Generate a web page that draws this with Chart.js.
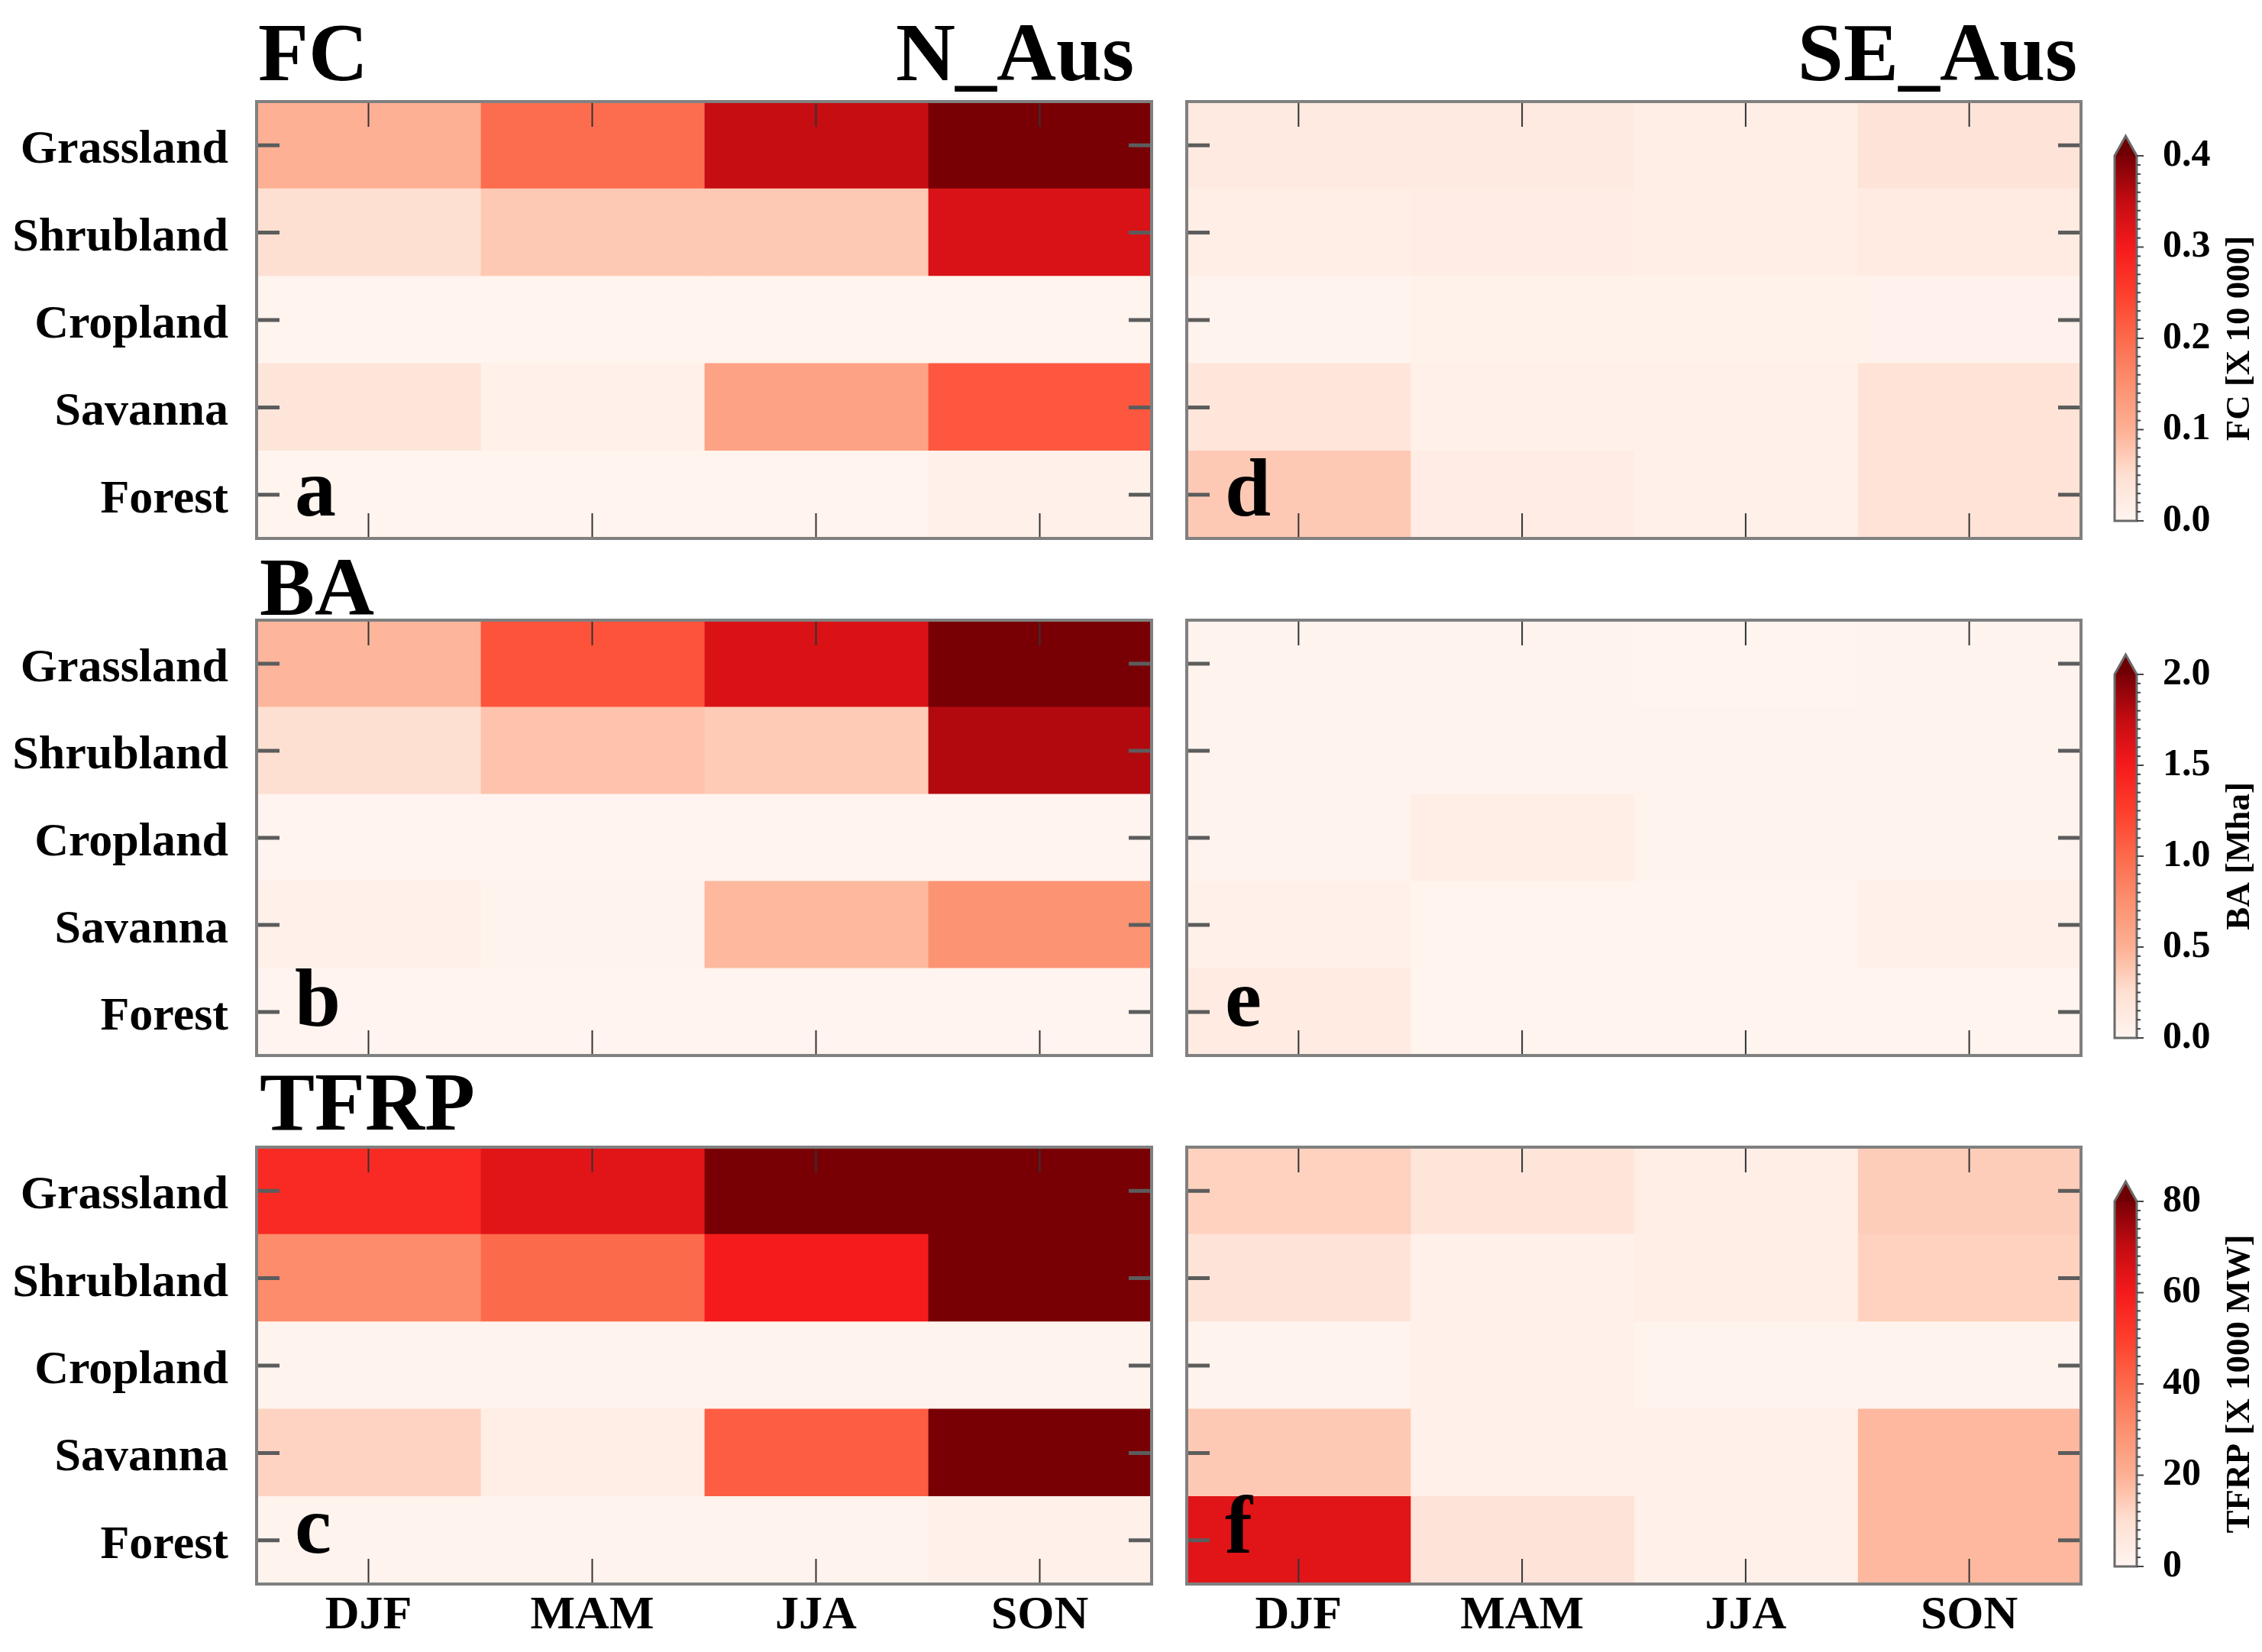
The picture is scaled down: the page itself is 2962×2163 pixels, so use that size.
<!DOCTYPE html>
<html>
<head>
<meta charset="utf-8">
<title>FC, BA and TFRP by land cover and season</title>
<script src="https://cdn.jsdelivr.net/npm/chart.js@4.4.1/dist/chart.umd.min.js"></script>
<style>
  html, body { margin: 0; padding: 0; background: #fff; }
  #page { position: relative; width: 2962px; height: 2163px; overflow: hidden; background: #fff; }
  #page canvas { position: absolute; }
</style>
</head>
<body>
<div id="page"></div>
<script>
// heatmap values: rows follow landTypes, columns follow seasons
const landTypes = ['Grassland', 'Shrubland', 'Cropland', 'Savanna', 'Forest'];
const seasons = ['DJF', 'MAM', 'JJA', 'SON'];

const fcNorth = [
  [0.100, 0.196, 0.348, 0.420],
  [0.050, 0.074, 0.074, 0.330],
  [0.003, 0.003, 0.003, 0.003],
  [0.038, 0.012, 0.122, 0.220],
  [0.003, 0.003, 0.003, 0.010]
];
const fcSouth = [
  [0.026, 0.026, 0.017, 0.040],
  [0.017, 0.018, 0.016, 0.025],
  [0.004, 0.008, 0.008, 0.006],
  [0.036, 0.012, 0.012, 0.043],
  [0.074, 0.018, 0.012, 0.043]
];
const baNorth = [
  [0.47, 1.13, 1.64, 2.10],
  [0.25, 0.40, 0.36, 1.81],
  [0.01, 0.01, 0.01, 0.01],
  [0.06, 0.02, 0.46, 0.72],
  [0.01, 0.01, 0.01, 0.01]
];
const baSouth = [
  [0.020, 0.020, 0.015, 0.020],
  [0.020, 0.020, 0.020, 0.020],
  [0.020, 0.085, 0.020, 0.020],
  [0.050, 0.015, 0.015, 0.060],
  [0.120, 0.015, 0.015, 0.015]
];
const frpNorth = [
  [55.5, 64.0, 85.0, 85.0],
  [31.0, 40.0, 60.0, 85.0],
  [1.0, 1.0, 1.0, 1.0],
  [12.7, 3.4, 43.0, 85.0],
  [1.0, 1.0, 1.0, 2.4]
];
const frpSouth = [
  [13.0, 7.6, 3.4, 14.0],
  [8.0, 2.4, 3.4, 13.0],
  [1.0, 2.2, 1.0, 1.0],
  [14.8, 2.4, 2.4, 18.3],
  [64.0, 8.0, 2.4, 18.3]
];

// colour bar ticks
const fcTicks = [0, 0.1, 0.2, 0.3, 0.4];
const fcTickLabels = ['0.0', '0.1', '0.2', '0.3', '0.4'];
const baTicks = [0, 0.5, 1.0, 1.5, 2.0];
const baTickLabels = ['0.0', '0.5', '1.0', '1.5', '2.0'];
const frpTicks = [0, 20, 40, 60, 80];
const frpTickLabels = ['0', '20', '40', '60', '80'];

// white -> red -> dark red palette
const redStops = [
  [255, 245, 240], [254, 224, 210], [253, 176, 148], [252, 144, 112],
  [252, 106, 76], [254, 62, 44], [245, 26, 28], [196, 12, 18], [120, 0, 5]
];
function redColor(t) {
  t = Math.max(0, Math.min(1, t));
  const p = t * (redStops.length - 1);
  const i = Math.min(Math.floor(p), redStops.length - 2);
  const f = p - i;
  const a = redStops[i], b = redStops[i + 1];
  const c = a.map((v, k) => Math.round(v + (b[k] - v) * f));
  return `rgb(${c[0]},${c[1]},${c[2]})`;
}

const SERIF = '"Liberation Serif", "Times New Roman", serif';
Chart.defaults.font.family = SERIF;
Chart.defaults.font.weight = 'bold';
Chart.defaults.color = '#000';

const page = document.getElementById('page');
function makeCanvas(left, top, w, h) {
  const c = document.createElement('canvas');
  c.width = w; c.height = h;
  c.style.left = left + 'px'; c.style.top = top + 'px';
  c.style.width = w + 'px'; c.style.height = h + 'px';
  page.appendChild(c);
  return c;
}

// keep tick labels from shrinking the plot area
function noPad(s) {
  s.paddingTop = 0; s.paddingBottom = 0; s.paddingLeft = 0; s.paddingRight = 0;
}

// frame, inward ticks, panel letter and headings
const panelDecor = {
  id: 'panelDecor',
  afterDatasetsDraw(chart, args, o) {
    const { ctx, chartArea: a } = chart;
    const ys = chart.scales.y, xs = chart.scales.season;
    ctx.save();
    ctx.lineCap = 'butt';
    ctx.strokeStyle = '#5c5c5c';
    ctx.lineWidth = 5;
    ys.ticks.forEach((t, i) => {
      const y = ys.getPixelForTick(i);
      ctx.beginPath();
      ctx.moveTo(a.left, y); ctx.lineTo(a.left + 30, y);
      ctx.moveTo(a.right - 30, y); ctx.lineTo(a.right, y);
      ctx.stroke();
    });
    ctx.strokeStyle = '#333';
    ctx.lineWidth = 2;
    xs.ticks.forEach((t, i) => {
      const x = xs.getPixelForTick(i);
      ctx.beginPath();
      ctx.moveTo(x, a.top); ctx.lineTo(x, a.top + 33);
      ctx.moveTo(x, a.bottom - 33); ctx.lineTo(x, a.bottom);
      ctx.stroke();
    });
    ctx.strokeStyle = '#808080';
    ctx.lineWidth = 4;
    ctx.strokeRect(a.left, a.top, a.right - a.left, a.bottom - a.top);

    ctx.fillStyle = '#000';
    ctx.textBaseline = 'alphabetic';
    ctx.font = 'bold 108px ' + SERIF;
    ctx.textAlign = 'left';
    ctx.fillText(o.letter, a.left + 50, a.bottom - o.letterDy);
    (o.heads || []).forEach(h => {
      ctx.textAlign = h.align;
      const x = h.align === 'left' ? a.left + h.dx : a.right - h.dx;
      ctx.fillText(h.text, x, a.top - h.dy);
    });
    ctx.restore();
  }
};

const colLeft = [336, 1554], colRight = [1508, 2725];
const canvasX = [0, 1530], canvasW = [1530, 1210];
const rowTop = [133, 812, 1502], rowBottom = [705, 1382, 2074];
const headRoom = 133;

function heatPanel(col, row, vals, vmax, deco) {
  const last = row === 2;
  const bottomSpace = last ? 2163 - rowBottom[row] : 10;
  const top = rowTop[row] - headRoom;
  const h = headRoom + (rowBottom[row] - rowTop[row]) + bottomSpace;
  const el = makeCanvas(canvasX[col], top, canvasW[col], h);
  return new Chart(el, {
    type: 'bar',
    data: {
      labels: landTypes,
      datasets: seasons.map((s, c) => ({
        label: s,
        data: landTypes.map(() => 1),
        backgroundColor: landTypes.map((_, r) => redColor(vals[r][c] / vmax)),
        borderWidth: 0,
        barPercentage: 1,
        categoryPercentage: 1,
        inflateAmount: 0.6
      }))
    },
    options: {
      indexAxis: 'y',
      responsive: false,
      animation: false,
      events: [],
      layout: {
        padding: { top: headRoom, right: canvasX[col] + canvasW[col] - colRight[col], left: 0, bottom: 0 }
      },
      plugins: { legend: { display: false }, tooltip: { enabled: false }, panelDecor: deco },
      scales: {
        x: { type: 'linear', stacked: true, min: 0, max: seasons.length, display: false },
        season: {
          type: 'category', axis: 'x', position: 'bottom', labels: seasons, offset: true,
          grid: { display: false }, border: { display: false },
          ticks: { display: last, font: { size: 62, weight: 'bold' }, color: '#000', padding: -3, maxRotation: 0 },
          afterFit: s => { s.height = bottomSpace; noPad(s); }
        },
        y: {
          stacked: true,
          grid: { display: false }, border: { display: false },
          ticks: { display: col === 0, font: { size: 62, weight: 'bold' }, color: '#000', padding: 29, labelOffset: 7 },
          afterFit: s => { s.width = colLeft[col] - canvasX[col]; noPad(s); }
        }
      }
    },
    plugins: [panelDecor]
  });
}

// colour bar with arrow, fine ticks and rotated title
const barDecor = {
  id: 'barDecor',
  afterDatasetsDraw(chart, args, o) {
    const { ctx, chartArea: a } = chart;
    const ys = chart.scales.y;
    const yTop = ys.getPixelForValue(ys.max), yBot = ys.getPixelForValue(ys.min);
    const cx = (a.left + a.right) / 2;
    ctx.save();
    ctx.beginPath();
    ctx.moveTo(a.left, yTop); ctx.lineTo(cx, yTop - 26); ctx.lineTo(a.right, yTop);
    ctx.closePath();
    ctx.fillStyle = '#6e0003';
    ctx.fill();
    ctx.beginPath();
    ctx.moveTo(a.left, yBot); ctx.lineTo(a.left, yTop); ctx.lineTo(cx, yTop - 26);
    ctx.lineTo(a.right, yTop); ctx.lineTo(a.right, yBot); ctx.closePath();
    ctx.strokeStyle = '#6a6a6a';
    ctx.lineWidth = 3;
    ctx.stroke();
    ctx.strokeStyle = '#444';
    ctx.lineWidth = 2;
    const n = 40;
    for (let i = 0; i <= n; i++) {
      const y = ys.getPixelForValue(ys.min + (ys.max - ys.min) * i / n);
      ctx.beginPath();
      ctx.moveTo(a.right, y); ctx.lineTo(a.right + (i % 10 === 0 ? 9 : 5), y);
      ctx.stroke();
    }
    ctx.translate(o.titleX, (yTop + yBot) / 2);
    ctx.rotate(-Math.PI / 2);
    ctx.fillStyle = '#000';
    ctx.font = 'bold 45px ' + SERIF;
    ctx.textAlign = 'center';
    ctx.textBaseline = 'middle';
    ctx.fillText(o.title, 0, 0);
    ctx.restore();
  }
};

const barLeft = 2745, barW = 217, barInset = 24, barWidth = 29;
function colorBar(row, ticks, tickLabels, title) {
  const yTop = rowTop[row] + 71, yBot = rowBottom[row] - 23;
  const padTop = 40, padBot = 30;
  const el = makeCanvas(barLeft, yTop - padTop, barW, yBot - yTop + padTop + padBot);
  const lo = ticks[0], hi = ticks[ticks.length - 1];
  return new Chart(el, {
    type: 'bar',
    data: {
      labels: [title],
      datasets: [{
        data: [hi],
        barPercentage: 1,
        categoryPercentage: 1,
        borderWidth: 0,
        backgroundColor: c => {
          const ch = c.chart;
          if (!ch.chartArea) return '#fff';
          const ys = ch.scales.y;
          const g = ch.ctx.createLinearGradient(0, ys.getPixelForValue(lo), 0, ys.getPixelForValue(hi));
          redStops.forEach((s, i) => g.addColorStop(i / (redStops.length - 1), `rgb(${s[0]},${s[1]},${s[2]})`));
          return g;
        }
      }]
    },
    options: {
      responsive: false,
      animation: false,
      events: [],
      layout: { padding: { top: padTop, bottom: padBot, left: barInset, right: 0 } },
      plugins: { legend: { display: false }, tooltip: { enabled: false }, barDecor: { title, titleX: 188 } },
      scales: {
        x: { display: false },
        y: {
          position: 'right', min: lo, max: hi,
          grid: { display: false }, border: { display: false },
          afterBuildTicks: s => { s.ticks = ticks.map(v => ({ value: v })); },
          ticks: { callback: (v, i) => tickLabels[i], font: { size: 50, weight: 'bold' }, color: '#000', padding: 26 },
          afterFit: s => { s.width = barW - barInset - barWidth; noPad(s); }
        }
      }
    },
    plugins: [barDecor]
  });
}

heatPanel(0, 0, fcNorth, fcTicks[fcTicks.length - 1], {
  letter: 'a', letterDy: 30,
  heads: [{ text: 'FC', align: 'left', dx: 2, dy: 28 }, { text: 'N_Aus', align: 'right', dx: 23, dy: 28 }]
});
heatPanel(1, 0, fcSouth, fcTicks[fcTicks.length - 1], {
  letter: 'd', letterDy: 30,
  heads: [{ text: 'SE_Aus', align: 'right', dx: 5, dy: 28 }]
});
heatPanel(0, 1, baNorth, baTicks[baTicks.length - 1], {
  letter: 'b', letterDy: 39,
  heads: [{ text: 'BA', align: 'left', dx: 4, dy: 7 }]
});
heatPanel(1, 1, baSouth, baTicks[baTicks.length - 1], { letter: 'e', letterDy: 39 });
heatPanel(0, 2, frpNorth, frpTicks[frpTicks.length - 1], {
  letter: 'c', letterDy: 41,
  heads: [{ text: 'TFRP', align: 'left', dx: 4, dy: 23 }]
});
heatPanel(1, 2, frpSouth, frpTicks[frpTicks.length - 1], { letter: 'f', letterDy: 41 });

colorBar(0, fcTicks, fcTickLabels, 'FC [X 10 000]');
colorBar(1, baTicks, baTickLabels, 'BA [Mha]');
colorBar(2, frpTicks, frpTickLabels, 'TFRP [X 1000 MW]');
</script>
</body>
</html>
